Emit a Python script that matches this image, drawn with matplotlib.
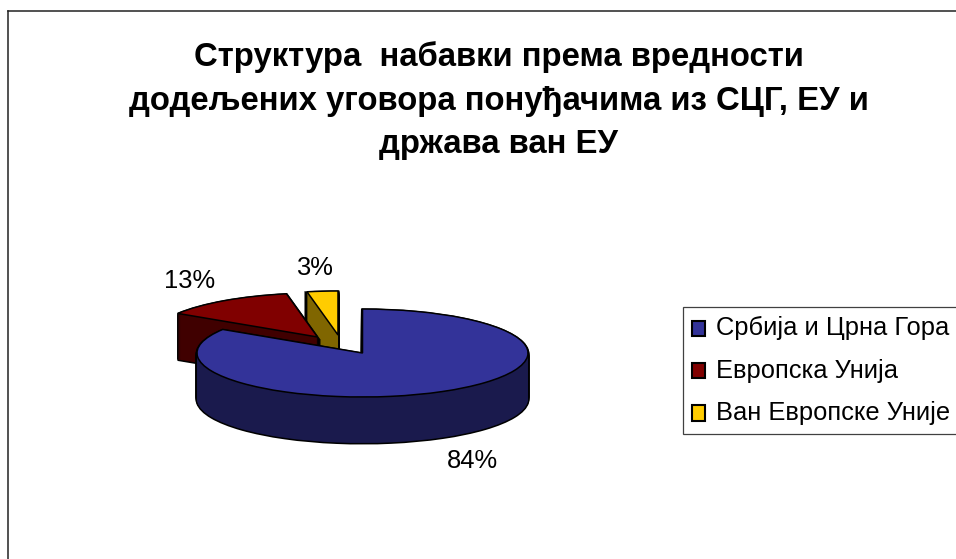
import matplotlib
matplotlib.use("Agg")
import matplotlib.pyplot as plt
from matplotlib.patches import Patch

plt.rcParams['font.family'] = ['Liberation Sans', 'DejaVu Sans']

W, H = 956, 559
TITLE = "Структура  набавки према вредности\nдодељених уговора понуђачима из СЦГ, ЕУ и\nдржава ван ЕУ"
categories = ["Србија и Црна Гора", "Европска Унија", "Ван Европске Уније"]
values = [84, 13, 3]
colors_top = ["#333399", "#800000", "#FFCC00"]
colors_side = ["#1A1A4D", "#400000", "#806600"]
# pixel position of each slice apex (exploded layout) and of each value label
apex_px = [(362.5, 353), (317.5, 337), (338, 335)]
label_px = [(472, 461), (190, 281), (314, 268.5)]

CX, CY, RX, RY, DEPTH = 362.5, 353, 165.5, 44, 46

fig = plt.figure(figsize=(W / 100, H / 100), dpi=100, facecolor="white")
ax = fig.add_axes([8 / W, 0, 1 - 8 / W, (H - 11) / H])


def px(x, y):
    return (x - CX) / RX, (CY - y) / RY


def draw_slice(frac, start, center, color, lw, edge):
    wedges, _ = ax.pie([frac], startangle=start, counterclock=False, normalize=False,
                       center=center, radius=1, colors=[color],
                       wedgeprops=dict(edgecolor=edge, linewidth=lw))
    return wedges


total = sum(values)
fracs = [v / total for v in values]
starts = []
angle = 90.0
for f in fracs:
    starts.append(angle)
    angle -= 360 * f

# back to front: yellow, red, blue
for i in [2, 1, 0]:
    x0, y0 = px(*apex_px[i])
    for d in range(DEPTH, 0, -1):
        draw_slice(fracs[i], starts[i], (x0, y0 - d / RY), colors_side[i], 2.2, "black")
    for d in range(DEPTH, 0, -1):
        draw_slice(fracs[i], starts[i], (x0, y0 - d / RY), colors_side[i], 0, "none")
    draw_slice(fracs[i], starts[i], (x0, y0), colors_top[i], 1.1, "black")

ax.set_aspect("auto")
ax.set_xlim(px(8, 0)[0], px(W, 0)[0])
ax.set_ylim(px(0, H)[1], px(0, 11)[1])
ax.set_frame_on(True)
ax.set_xticks([])
ax.set_yticks([])
for s in ["right", "bottom"]:
    ax.spines[s].set_visible(False)
for s in ["left", "top"]:
    ax.spines[s].set_color("#222222")
    ax.spines[s].set_linewidth(1.1)

for v, (lx, ly) in zip(values, label_px):
    x, y = px(lx, ly)
    ax.text(x, y, f"{v}%", ha="center", va="center", fontsize=18.4, color="black", clip_on=False)

fig.text(498.5 / W, 1 - 101 / H, TITLE, ha="center", va="center", fontsize=23.7,
         fontweight="bold", linespacing=1.52, color="black")

handles = [Patch(facecolor=c, edgecolor="black", linewidth=1.5) for c in colors_top]
leg = fig.legend(handles, categories, loc="upper left",
                 bbox_to_anchor=(683 / W, 1 - 307 / H), fontsize=18.4,
                 frameon=True, fancybox=False, edgecolor="#404040", framealpha=1,
                 borderpad=0.36, handlelength=0.51, handleheight=0.55, handletextpad=0.43,
                 labelspacing=0.72, borderaxespad=0)
leg.get_frame().set_linewidth(0.9)
for p in leg.get_patches():
    p.set_y(p.get_y() - 1.5)

fig.savefig("out.png", dpi=100)
